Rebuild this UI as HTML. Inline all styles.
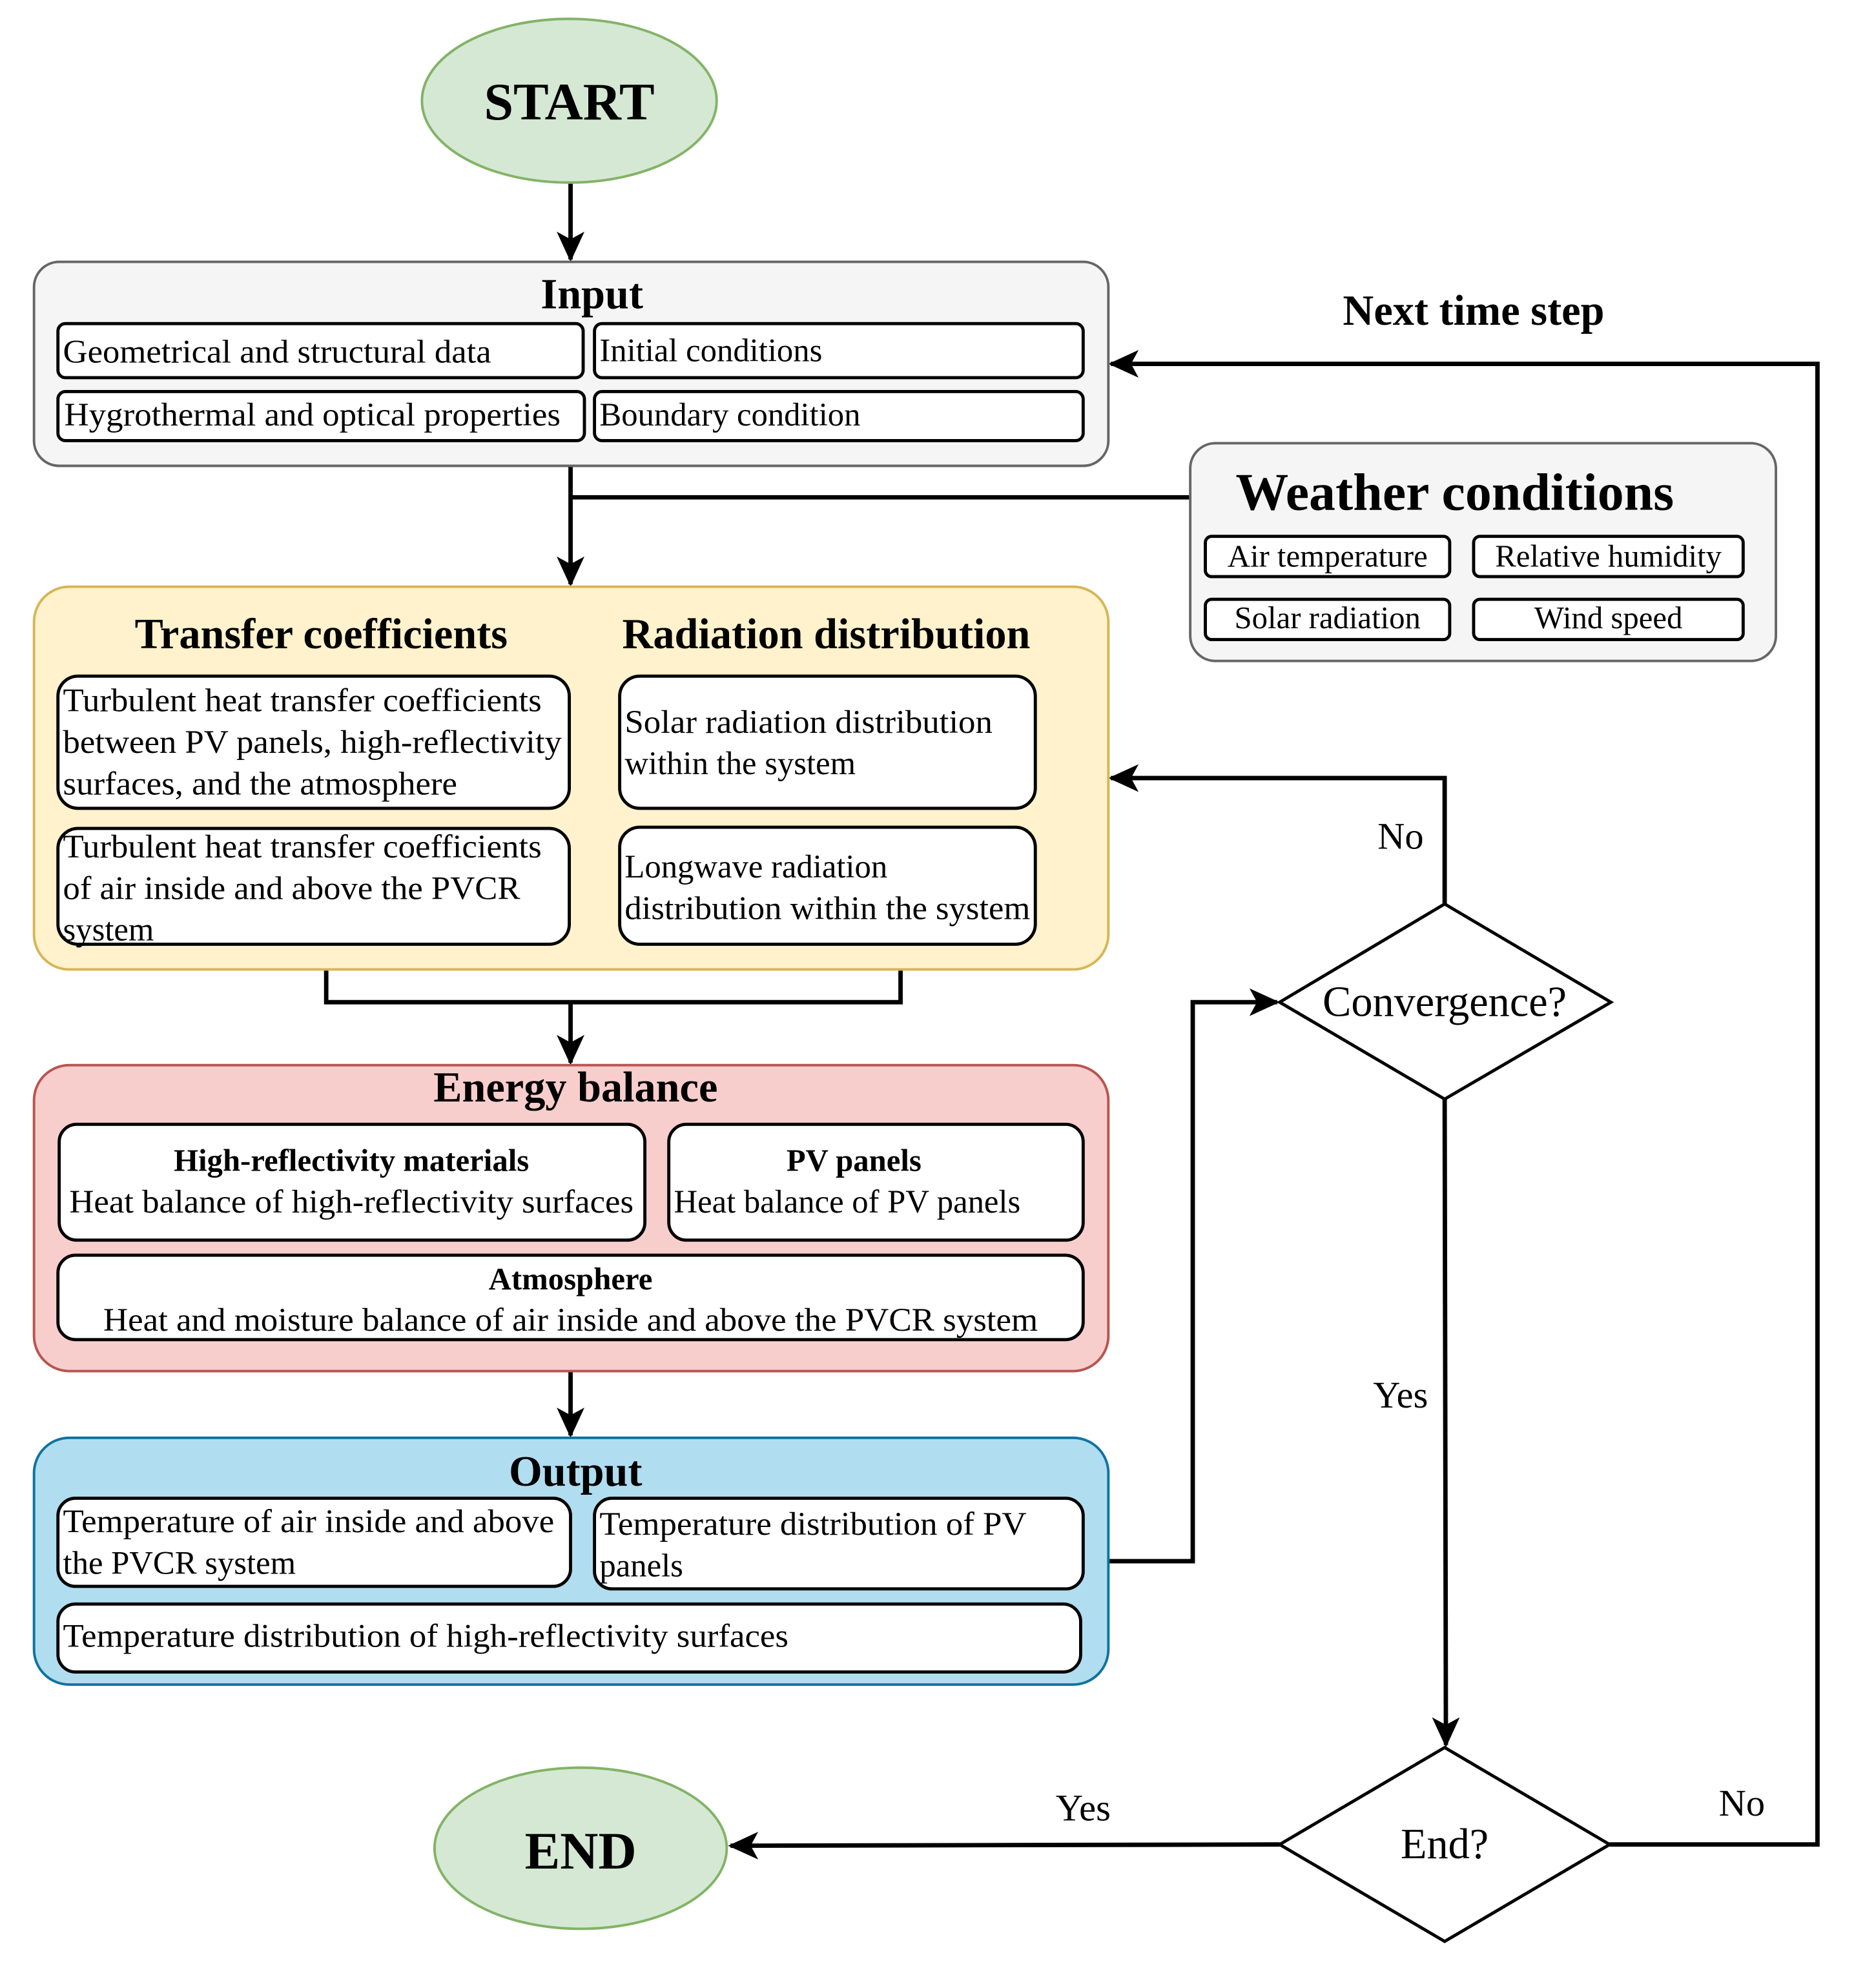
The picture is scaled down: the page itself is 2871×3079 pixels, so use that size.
<!DOCTYPE html>
<html><head><meta charset="utf-8"><style>html,body{margin:0;padding:0;background:#fff}svg{display:block}</style></head><body>
<svg width="2871" height="3079" viewBox="0 0 1472 1579" preserveAspectRatio="none" xmlns="http://www.w3.org/2000/svg" font-family="'Liberation Serif', serif">
<defs>
<marker id="b" markerWidth="24" markerHeight="22" refX="22" refY="11" orient="auto" markerUnits="userSpaceOnUse"><path d="M0,0 L24,11 L0,22 L6,11 z" fill="#000"/></marker></defs>
<g stroke="#000" stroke-width="3.5" fill="none">
<line x1="453" y1="145" x2="453" y2="206" marker-end="url(#b)"/>
<polyline points="1278,1465 1443,1465 1443,289 882,289" marker-end="url(#b)"/>
<line x1="945" y1="395" x2="453" y2="395"/>
<line x1="453" y1="370" x2="453" y2="464" marker-end="url(#b)"/>
<polyline points="259,770 259,796 715,796 715,770"/>
<line x1="453" y1="796" x2="453" y2="844" marker-end="url(#b)"/>
<line x1="453" y1="1089" x2="453" y2="1140" marker-end="url(#b)"/>
<polyline points="880,1240 947,1240 947,796 1014,796" marker-end="url(#b)"/>
<polyline points="1147,718 1147,618 882,618" marker-end="url(#b)"/>
<line x1="1147" y1="873" x2="1148" y2="1386" marker-end="url(#b)"/>
<line x1="1016" y1="1465" x2="580" y2="1466" marker-end="url(#b)"/>
</g>
<ellipse cx="452" cy="80" rx="117" ry="65" fill="#d5e8d4" stroke="#82b366" stroke-width="2"/>
<text x="452" y="95" font-size="42" font-weight="bold" text-anchor="middle">START</text>
<ellipse cx="461" cy="1468" rx="116" ry="64" fill="#d5e8d4" stroke="#82b366" stroke-width="2"/>
<text x="461" y="1484" font-size="42" font-weight="bold" text-anchor="middle">END</text>
<g stroke-width="2">
<rect x="27" y="208" width="853" height="162" rx="20" fill="#f5f5f5" stroke="#666"/>
<rect x="945" y="352" width="465" height="173" rx="20" fill="#f5f5f5" stroke="#666"/>
<rect x="27" y="466" width="853" height="304" rx="28" fill="#fff2cc" stroke="#d6b656"/>
<rect x="27" y="846" width="853" height="243" rx="28" fill="#f8cecc" stroke="#b85450"/>
<rect x="27" y="1142" width="853" height="196" rx="28" fill="#b1ddf0" stroke="#10739e"/>
</g>
<g fill="#fff" stroke="#000" stroke-width="2.5">
<rect x="46" y="257" width="417" height="43" rx="6"/><rect x="472" y="257" width="388" height="43" rx="6"/>
<rect x="46" y="311" width="418" height="39" rx="6"/><rect x="472" y="311" width="388" height="39" rx="6"/>
<rect x="957" y="426" width="194" height="32" rx="5"/><rect x="1170" y="426" width="214" height="32" rx="5"/>
<rect x="957" y="476" width="194" height="32" rx="5"/><rect x="1170" y="476" width="214" height="32" rx="5"/>
<rect x="46" y="537" width="406" height="105" rx="16"/><rect x="492" y="537" width="330" height="105" rx="16"/>
<rect x="46" y="658" width="406" height="92" rx="16"/><rect x="492" y="657" width="330" height="93" rx="16"/>
<rect x="47" y="893" width="465" height="92" rx="14"/><rect x="531" y="893" width="329" height="92" rx="14"/>
<rect x="46" y="997" width="814" height="67" rx="14"/>
<rect x="46" y="1190" width="407" height="70" rx="14"/><rect x="472" y="1190" width="388" height="72" rx="14"/>
<rect x="46" y="1274" width="812" height="54" rx="14"/>
<path d="M1016,796 L1147,718 L1279,796 L1147,873 Z"/>
<path d="M1016,1465 L1147,1388 L1278,1465 L1147,1542 Z"/>
</g>
<g font-weight="bold" text-anchor="middle">
<text x="470" y="245" font-size="34">Input</text>
<text x="1170" y="258" font-size="34">Next time step</text>
<text x="1155" y="405" font-size="42">Weather conditions</text>
<text x="255" y="515" font-size="34">Transfer coefficients</text>
<text x="656" y="515" font-size="34">Radiation distribution</text>
<text x="457" y="875" font-size="34">Energy balance</text>
<text x="457" y="1180" font-size="34">Output</text>
<text x="279" y="930" font-size="25">High-reflectivity materials</text>
<text x="678" y="930" font-size="25">PV panels</text>
<text x="453" y="1024" font-size="25">Atmosphere</text>
</g>
<g font-size="26">
<text x="50" y="288" textLength="340" lengthAdjust="spacingAndGlyphs">Geometrical and structural data</text>
<text x="476" y="287">Initial conditions</text>
<text x="51" y="338" textLength="394" lengthAdjust="spacingAndGlyphs">Hygrothermal and optical properties</text>
<text x="476" y="338">Boundary condition</text>
<text x="1054" y="450" text-anchor="middle" font-size="25">Air temperature</text>
<text x="1277" y="450" text-anchor="middle" font-size="25">Relative humidity</text>
<text x="1054" y="499" text-anchor="middle" font-size="25">Solar radiation</text>
<text x="1277" y="499" text-anchor="middle" font-size="25">Wind speed</text>
<text x="50" y="565" textLength="380" lengthAdjust="spacingAndGlyphs">Turbulent heat transfer coefficients</text>
<text x="50" y="598" textLength="396" lengthAdjust="spacingAndGlyphs">between PV panels, high-reflectivity</text>
<text x="50" y="631" textLength="313" lengthAdjust="spacingAndGlyphs">surfaces, and the atmosphere</text>
<text x="50" y="681" textLength="380" lengthAdjust="spacingAndGlyphs">Turbulent heat transfer coefficients</text>
<text x="50" y="714" textLength="363" lengthAdjust="spacingAndGlyphs">of air inside and above the PVCR</text>
<text x="50" y="747">system</text>
<text x="496" y="582" textLength="292" lengthAdjust="spacingAndGlyphs">Solar radiation distribution</text>
<text x="496" y="615">within the system</text>
<text x="496" y="697">Longwave radiation</text>
<text x="496" y="730" textLength="322" lengthAdjust="spacingAndGlyphs">distribution within the system</text>
<text x="55" y="963" textLength="448" lengthAdjust="spacingAndGlyphs">Heat balance of high-reflectivity surfaces</text>
<text x="535" y="963">Heat balance of PV panels</text>
<text x="82" y="1057" textLength="742" lengthAdjust="spacingAndGlyphs">Heat and moisture balance of air inside and above the PVCR system</text>
<text x="50" y="1217" textLength="390" lengthAdjust="spacingAndGlyphs">Temperature of air inside and above</text>
<text x="50" y="1250">the PVCR system</text>
<text x="476" y="1219" textLength="339" lengthAdjust="spacingAndGlyphs">Temperature distribution of PV</text>
<text x="476" y="1252">panels</text>
<text x="50" y="1308" textLength="576" lengthAdjust="spacingAndGlyphs">Temperature distribution of high-reflectivity surfaces</text>
</g>
<g font-size="30" text-anchor="middle">
<text x="1147" y="807" font-size="34">Convergence?</text>
<text x="1147" y="1476" font-size="34">End?</text>
<text x="1112" y="674">No</text>
<text x="1112" y="1118">Yes</text>
<text x="860" y="1446">Yes</text>
<text x="1383" y="1442">No</text>
</g>
</svg>
</body></html>
